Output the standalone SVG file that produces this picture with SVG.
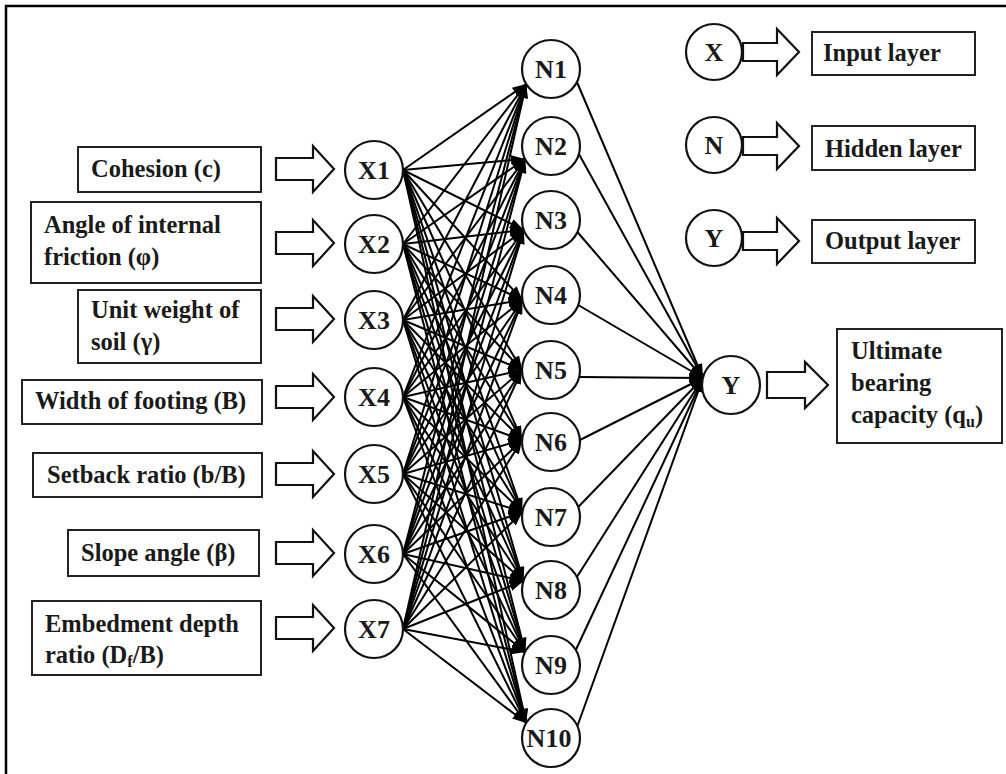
<svg xmlns="http://www.w3.org/2000/svg" width="1006" height="774" viewBox="0 0 1006 774">
<style>
.t{font-weight:bold;font-size:24.5px;fill:#1a1a1a}
.n{font-weight:bold;font-size:26px;fill:#1a1a1a;text-anchor:middle}
.box{fill:#fff;stroke:#222;stroke-width:2}
.node{fill:#fff;stroke:#111;stroke-width:2.2}
.barrow{fill:#fff;stroke:#111;stroke-width:2.2;stroke-linejoin:miter}
.c line{stroke:#000;stroke-width:2;marker-end:url(#ah)}
</style>
<defs>
<marker id="ah" markerUnits="userSpaceOnUse" markerWidth="14" markerHeight="10" refX="14" refY="5" orient="auto">
<path d="M0,0 L14,5 L0,10 Z" fill="#000"/>
</marker>
</defs>
<rect width="1006" height="774" fill="#fff"/>
<path d="M6,774 V6 H1006" fill="none" stroke="#000" stroke-width="2.5"/>

<g id="connectors" class="c">
<line x1="403" y1="170" x2="526.2" y2="84"/><line x1="403" y1="170" x2="525.1" y2="159"/><line x1="403" y1="170" x2="523.8" y2="230"/><line x1="403" y1="170" x2="522.4" y2="300"/><line x1="403" y1="170" x2="522" y2="370"/><line x1="403" y1="170" x2="522.1" y2="440"/><line x1="403" y1="170" x2="522.4" y2="512"/><line x1="403" y1="170" x2="523.4" y2="581"/><line x1="403" y1="170" x2="525.1" y2="652"/><line x1="403" y1="170" x2="526.2" y2="723"/>
<line x1="403" y1="244" x2="526.2" y2="84"/><line x1="403" y1="244" x2="525.1" y2="159"/><line x1="403" y1="244" x2="523.8" y2="230"/><line x1="403" y1="244" x2="522.4" y2="300"/><line x1="403" y1="244" x2="522" y2="370"/><line x1="403" y1="244" x2="522.1" y2="440"/><line x1="403" y1="244" x2="522.4" y2="512"/><line x1="403" y1="244" x2="523.4" y2="581"/><line x1="403" y1="244" x2="525.1" y2="652"/><line x1="403" y1="244" x2="526.2" y2="723"/>
<line x1="403" y1="320" x2="526.2" y2="84"/><line x1="403" y1="320" x2="525.1" y2="159"/><line x1="403" y1="320" x2="523.8" y2="230"/><line x1="403" y1="320" x2="522.4" y2="300"/><line x1="403" y1="320" x2="522" y2="370"/><line x1="403" y1="320" x2="522.1" y2="440"/><line x1="403" y1="320" x2="522.4" y2="512"/><line x1="403" y1="320" x2="523.4" y2="581"/><line x1="403" y1="320" x2="525.1" y2="652"/><line x1="403" y1="320" x2="526.2" y2="723"/>
<line x1="403" y1="397" x2="526.2" y2="84"/><line x1="403" y1="397" x2="525.1" y2="159"/><line x1="403" y1="397" x2="523.8" y2="230"/><line x1="403" y1="397" x2="522.4" y2="300"/><line x1="403" y1="397" x2="522" y2="370"/><line x1="403" y1="397" x2="522.1" y2="440"/><line x1="403" y1="397" x2="522.4" y2="512"/><line x1="403" y1="397" x2="523.4" y2="581"/><line x1="403" y1="397" x2="525.1" y2="652"/><line x1="403" y1="397" x2="526.2" y2="723"/>
<line x1="403" y1="474" x2="526.2" y2="84"/><line x1="403" y1="474" x2="525.1" y2="159"/><line x1="403" y1="474" x2="523.8" y2="230"/><line x1="403" y1="474" x2="522.4" y2="300"/><line x1="403" y1="474" x2="522" y2="370"/><line x1="403" y1="474" x2="522.1" y2="440"/><line x1="403" y1="474" x2="522.4" y2="512"/><line x1="403" y1="474" x2="523.4" y2="581"/><line x1="403" y1="474" x2="525.1" y2="652"/><line x1="403" y1="474" x2="526.2" y2="723"/>
<line x1="403" y1="554" x2="526.2" y2="84"/><line x1="403" y1="554" x2="525.1" y2="159"/><line x1="403" y1="554" x2="523.8" y2="230"/><line x1="403" y1="554" x2="522.4" y2="300"/><line x1="403" y1="554" x2="522" y2="370"/><line x1="403" y1="554" x2="522.1" y2="440"/><line x1="403" y1="554" x2="522.4" y2="512"/><line x1="403" y1="554" x2="523.4" y2="581"/><line x1="403" y1="554" x2="525.1" y2="652"/><line x1="403" y1="554" x2="526.2" y2="723"/>
<line x1="403" y1="629" x2="526.2" y2="84"/><line x1="403" y1="629" x2="525.1" y2="159"/><line x1="403" y1="629" x2="523.8" y2="230"/><line x1="403" y1="629" x2="522.4" y2="300"/><line x1="403" y1="629" x2="522" y2="370"/><line x1="403" y1="629" x2="522.1" y2="440"/><line x1="403" y1="629" x2="522.4" y2="512"/><line x1="403" y1="629" x2="523.4" y2="581"/><line x1="403" y1="629" x2="525.1" y2="652"/><line x1="403" y1="629" x2="526.2" y2="723"/>
<line x1="576.9" y1="82" x2="703" y2="378"/><line x1="578.9" y1="154" x2="703" y2="378"/><line x1="577.4" y1="232" x2="703" y2="378"/><line x1="578.2" y1="305" x2="703" y2="378"/><line x1="579.1" y1="377" x2="703" y2="378"/><line x1="579.9" y1="440" x2="703" y2="378"/><line x1="578.2" y1="507" x2="703" y2="378"/><line x1="576.9" y1="577" x2="703" y2="378"/><line x1="575.8" y1="650" x2="703" y2="378"/><line x1="577.4" y1="726" x2="703" y2="378"/>
</g>

<g font-family="Liberation Serif, Times New Roman, serif">
<g id="in-cohesion"><rect class="box" x="78" y="147" width="183" height="45"/><text class="t" x="91" y="177">Cohesion (c)</text>
<path class="barrow" d="M276,158 H313 V146 L334,169 L313,192 V180 H276 Z"/></g>
<g id="in-friction"><rect class="box" x="31" y="202" width="230" height="81"/><text class="t" x="44" y="233">Angle of internal</text><text class="t" x="44" y="265">friction (φ)</text>
<path class="barrow" d="M276,232 H313 V220 L334,243 L313,266 V254 H276 Z"/></g>
<g id="in-unitweight"><rect class="box" x="78" y="290" width="183" height="73"/><text class="t" x="91" y="318">Unit weight of</text><text class="t" x="91" y="350">soil (γ)</text>
<path class="barrow" d="M276,308 H313 V296 L334,319 L313,342 V330 H276 Z"/></g>
<g id="in-width"><rect class="box" x="22" y="380" width="240" height="44"/><text class="t" x="35" y="409">Width of footing (B)</text>
<path class="barrow" d="M276,386 H313 V374 L334,397 L313,420 V408 H276 Z"/></g>
<g id="in-setback"><rect class="box" x="33" y="453" width="229" height="44"/><text class="t" x="47" y="483">Setback ratio (b/B)</text>
<path class="barrow" d="M276,463 H313 V451 L334,474 L313,497 V485 H276 Z"/></g>
<g id="in-slope"><rect class="box" x="68" y="530" width="191" height="46"/><text class="t" x="81" y="561">Slope angle (β)</text>
<path class="barrow" d="M276,542 H313 V530 L334,553 L313,576 V564 H276 Z"/></g>
<g id="in-embed"><rect class="box" x="32" y="601" width="229" height="74"/><text class="t" x="45" y="632">Embedment depth</text><text class="t" x="45" y="663">ratio (D<tspan font-size="16" dy="4">f</tspan><tspan dy="-4">/B)</tspan></text>
<path class="barrow" d="M276,617 H313 V605 L334,628 L313,651 V639 H276 Z"/></g>

<g id="X1"><circle class="node" cx="374" cy="170" r="29"/><text class="n" x="374" y="179">X1</text></g>
<g id="X2"><circle class="node" cx="374" cy="244" r="29"/><text class="n" x="374" y="253">X2</text></g>
<g id="X3"><circle class="node" cx="374" cy="320" r="29"/><text class="n" x="374" y="329">X3</text></g>
<g id="X4"><circle class="node" cx="374" cy="397" r="29"/><text class="n" x="374" y="406">X4</text></g>
<g id="X5"><circle class="node" cx="374" cy="474" r="29"/><text class="n" x="374" y="483">X5</text></g>
<g id="X6"><circle class="node" cx="374" cy="554" r="29"/><text class="n" x="374" y="563">X6</text></g>
<g id="X7"><circle class="node" cx="374" cy="629" r="29"/><text class="n" x="374" y="638">X7</text></g>

<g id="N1"><circle class="node" cx="551" cy="69" r="29"/><text class="n" x="551" y="78">N1</text></g>
<g id="N2"><circle class="node" cx="551" cy="146" r="29"/><text class="n" x="551" y="155">N2</text></g>
<g id="N3"><circle class="node" cx="551" cy="220" r="29"/><text class="n" x="551" y="229">N3</text></g>
<g id="N4"><circle class="node" cx="551" cy="295" r="29"/><text class="n" x="551" y="304">N4</text></g>
<g id="N5"><circle class="node" cx="551" cy="370" r="29"/><text class="n" x="551" y="379">N5</text></g>
<g id="N6"><circle class="node" cx="551" cy="442" r="29"/><text class="n" x="551" y="451">N6</text></g>
<g id="N7"><circle class="node" cx="551" cy="517" r="29"/><text class="n" x="551" y="526">N7</text></g>
<g id="N8"><circle class="node" cx="551" cy="590" r="29"/><text class="n" x="551" y="599">N8</text></g>
<g id="N9"><circle class="node" cx="551" cy="665" r="29"/><text class="n" x="551" y="674">N9</text></g>
<g id="N10"><circle class="node" cx="551" cy="738" r="29"/><text class="n" x="549" y="747">N10</text></g>

<g id="Y"><circle class="node" cx="731" cy="385" r="29"/><text class="n" x="731" y="394">Y</text></g>
<g id="out"><path class="barrow" d="M767,372 H805 V362 L828,385 L805,408 V398 H767 Z"/>
<rect class="box" x="837" y="329" width="165" height="114"/>
<text class="t" x="851" y="359">Ultimate</text><text class="t" x="851" y="391">bearing</text><text class="t" x="851" y="423">capacity (q<tspan font-size="16" dy="4">u</tspan><tspan dy="-4">)</tspan></text></g>

<g id="legend-input"><circle class="node" cx="714" cy="52" r="28"/><text class="n" x="714" y="61">X</text>
<path class="barrow" d="M743,43 H777 V29 L799,52 L777,75 V61 H743 Z"/>
<rect class="box" x="812" y="32" width="163" height="43"/><text class="t" x="823" y="61">Input layer</text></g>
<g id="legend-hidden"><circle class="node" cx="714" cy="145" r="28"/><text class="n" x="714" y="154">N</text>
<path class="barrow" d="M743,137 H777 V123 L799,146 L777,169 V155 H743 Z"/>
<rect class="box" x="812" y="126" width="163" height="44"/><text class="t" x="825" y="157">Hidden layer</text></g>
<g id="legend-output"><circle class="node" cx="714" cy="238" r="28"/><text class="n" x="714" y="247">Y</text>
<path class="barrow" d="M743,232 H777 V218 L799,241 L777,264 V250 H743 Z"/>
<rect class="box" x="812" y="220" width="163" height="43"/><text class="t" x="825" y="249">Output layer</text></g>
</g>
</svg>
